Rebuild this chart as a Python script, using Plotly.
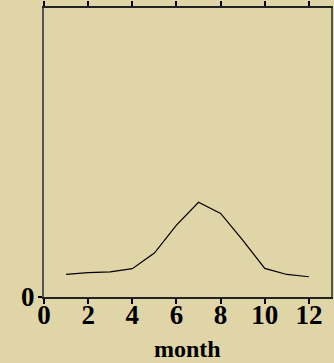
import plotly.graph_objects as go

months = [1, 2, 3, 4, 5, 6, 7, 8, 9, 10, 11, 12]
values = [7.8, 8.4, 8.7, 9.8, 15.2, 24.9, 32.8, 28.9, 19.7, 9.9, 7.8, 7.0]
x_ticks = [0, 2, 4, 6, 8, 10, 12]
y_ticks = [0]
x_title = "month"

bg = "#E0D5A6"
tick_font = dict(family="Liberation Serif", size=27, color="black", weight="bold")
title_font = dict(family="Liberation Serif", size=24, color="black", weight="bold")

fig = go.Figure(go.Scatter(x=months, y=values, mode="lines",
                           line=dict(color="black", width=1.2)))
fig.update_layout(
    width=334, height=363,
    margin=dict(l=44, r=1, t=7, b=66),
    paper_bgcolor=bg, plot_bgcolor=bg,
    showlegend=False,
    font=tick_font,
)
fig.update_xaxes(range=[0, 13], tickvals=x_ticks, ticks="outside", ticklen=5,
                 tickwidth=1.5, tickcolor="black",
                 showline=True, linecolor="#222", linewidth=2, mirror="ticks",
                 showgrid=False, zeroline=False, ticklabelstandoff=-12,
                 tickfont=tick_font)
fig.update_yaxes(range=[0, 100], tickvals=y_ticks, ticks="outside", ticklen=4,
                 tickwidth=1.5, tickcolor="black",
                 showline=True, linecolor="#555", linewidth=2, mirror=True,
                 showgrid=False, zeroline=False, tickfont=tick_font,
                 ticklabelstandoff=-2)
fig.add_annotation(text=x_title, xref="x domain", yref="y domain",
                   x=0.5, y=-0.181, xanchor="center", yanchor="middle",
                   showarrow=False, font=title_font)
fig.write_html("out.html")
